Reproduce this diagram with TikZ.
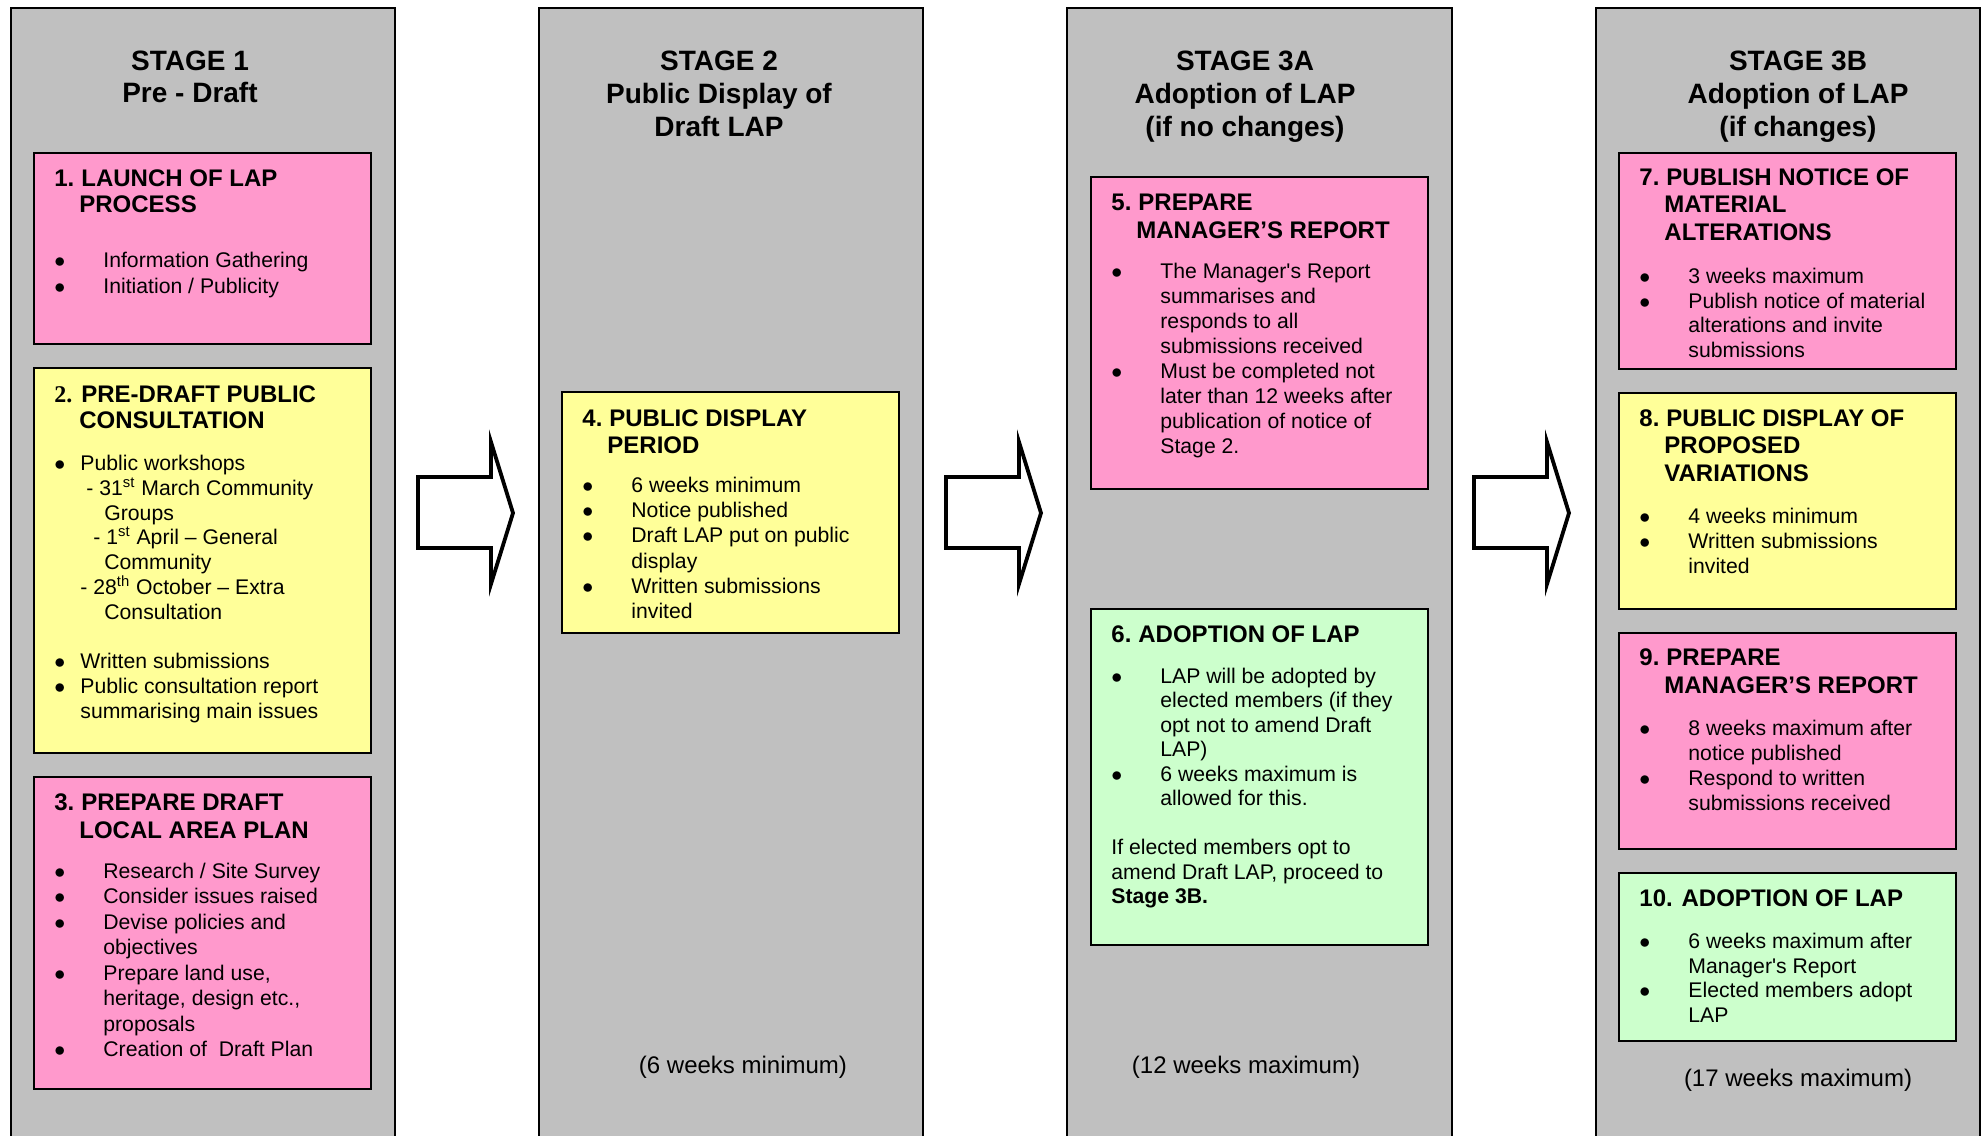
\documentclass[tikz,border=0pt]{standalone}
\usepackage{fontspec}
\setmainfont{Liberation Sans}
\newfontfamily\serifnum{Liberation Serif}
\definecolor{colgray}{HTML}{C0C0C0}
\definecolor{lpink}{HTML}{FF99CC}
\definecolor{lyellow}{HTML}{FFFF99}
\definecolor{lgreen}{HTML}{CCFFCC}
\newcommand\bu[1][24.5pt]{\makebox[#1][l]{$\bullet$}}
\newcommand\ind[1][24.5pt]{\hspace*{#1}}
\newcommand\num[1]{\makebox[13.5pt][l]{#1}}
\newcommand\hind{\hspace*{12.5pt}}
\newcommand\hs{\rule{0pt}{10pt}}
\newcommand\bs{\rule{0pt}{9pt}}
\newcommand\ts{\rule{0pt}{12pt}}
\tikzset{
  colpanel/.style={fill=colgray},
  coledge/.style={draw=black, line width=1pt},
  boxnode/.style={draw=black, line width=1.1pt, anchor=north west, inner sep=0pt, outer sep=0pt},
  pinkbox/.style={boxnode, fill=lpink},
  yellowbox/.style={boxnode, fill=lyellow},
  greenbox/.style={boxnode, fill=lgreen},
  stitle/.style={align=center, anchor=north, inner sep=0pt, font=\fontsize{14}{#1}\selectfont\bfseries, yshift=12pt},
  stitle/.default=16.5pt,
  thead/.style={align=left, anchor=north west, inner sep=0pt, font=\fontsize{12}{#1}\selectfont\bfseries, yshift=10pt},
  thead/.default=13.7pt,
  tbody/.style={align=left, anchor=north west, inner sep=0pt, font=\fontsize{10.6}{#1}\selectfont, yshift=9pt},
  tbody/.default=12.5pt,
  tfoot/.style={anchor=base, inner sep=0pt, font=\fontsize{12}{14}\selectfont},
  blockarrow/.style={fill=white, draw=black, line width=1.9pt, line join=miter}
}
\begin{document}
\begin{tikzpicture}[x=0.5pt,y=-0.5pt]
\useasboundingbox (0,0) rectangle (1984,1135);
\fill[white] (0,0) rectangle (1984,1135);

% columns
\foreach \l/\r in {11/395, 539/923, 1067/1452, 1596/1980}{
  \fill[colpanel] (\l,8) rectangle (\r,1145);
  \draw[coledge] (\l,1145) -- (\l,8) -- (\r,8) -- (\r,1145);
}

% block arrows
\foreach \s in {0,528,1056}{
  \draw[blockarrow, xshift=\s*0.5pt] (418,477) -- (491,477) -- (491,442) -- (513,513) -- (491,584) -- (491,548) -- (418,548) -- cycle;
}

% titles
\node[stitle=16pt] (t1) at (190,70) {\ts STAGE 1\\Pre - Draft};
\node[stitle] (t2) at (719,70) {\ts STAGE 2\\Public Display of\\Draft LAP};
\node[stitle] (t3) at (1245,70) {\ts STAGE 3A\\Adoption of LAP\\(if no changes)};
\node[stitle] (t4) at (1798,70) {\ts STAGE 3B\\Adoption of LAP\\(if changes)};

% boxes
\node[pinkbox, minimum width=168.5pt, minimum height=95.5pt] (b1) at (34,153) {};
\node[yellowbox, minimum width=168.5pt, minimum height=192.5pt] (b2) at (34,368) {};
\node[pinkbox, minimum width=168.5pt, minimum height=156pt] (b3) at (34,777) {};
\node[yellowbox, minimum width=168.5pt, minimum height=120.5pt] (b4) at (562,392) {};
\node[pinkbox, minimum width=168.5pt, minimum height=156pt] (b5) at (1091,177) {};
\node[greenbox, minimum width=168.5pt, minimum height=168pt] (b6) at (1091,609) {};
\node[pinkbox, minimum width=168.5pt, minimum height=108pt] (b7) at (1619,153) {};
\node[yellowbox, minimum width=168.5pt, minimum height=108pt] (b8) at (1619,393) {};
\node[pinkbox, minimum width=168.5pt, minimum height=108pt] (b9) at (1619,633) {};
\node[greenbox, minimum width=168.5pt, minimum height=84pt] (b10) at (1619,873) {};

% box 1
\node[thead=13pt] (h1) at (54,186) {\hs\num{1.}LAUNCH OF LAP\\\hind PROCESS};
\node[tbody=13.25pt] (x1) at (54,267) {\bs\bu Information Gathering\\\bu Initiation / Publicity};

% box 2
\node[thead=13pt] (h2) at (54,402) {\hs\num{\serifnum 2.}PRE-DRAFT PUBLIC\\\hind CONSULTATION};
\node[tbody=12.4pt] (x2) at (54,470) {\bs\bu[13pt]Public workshops\\
\ind[16pt]- 31\textsuperscript{st} March Community\\
\ind[25pt]Groups\\
\ind[19.5pt]- 1\textsuperscript{st} April – General\\
\ind[25pt]Community\\
\ind[13pt]- 28\textsuperscript{th} October – Extra\\
\ind[25pt]Consultation\\[12.4pt]
\bu[13pt]Written submissions\\
\bu[13pt]Public consultation report\\
\ind[13pt]summarising main issues};

% box 3
\node[thead=14pt] (h3) at (54,810) {\hs\num{3.}PREPARE DRAFT\\\hind LOCAL AREA PLAN};
\node[tbody=12.75pt] (x3) at (54,878) {\bs\bu Research / Site Survey\\
\bu Consider issues raised\\
\bu Devise policies and\\
\ind objectives\\
\bu Prepare land use,\\
\ind heritage, design etc.,\\
\ind proposals\\
\bu Creation of\ \ Draft Plan};

% box 4
\node[thead=13.3pt] (h4) at (582,426) {\hs\num{4.}PUBLIC DISPLAY\\\hind PERIOD};
\node[tbody=12.6pt] (x4) at (582,492) {\bs\bu 6 weeks minimum\\
\bu Notice published\\
\bu Draft LAP put on public\\
\ind display\\
\bu Written submissions\\
\ind invited};

% box 5
\node[thead=14pt] (h5) at (1111,210) {\hs\num{5.}PREPARE\\\hind MANAGER’S REPORT};
\node[tbody=12.5pt] (x5) at (1111,278) {\bs\bu The Manager\textquotesingle s Report\\
\ind summarises and\\
\ind responds to all\\
\ind submissions received\\
\bu Must be completed not\\
\ind later than 12 weeks after\\
\ind publication of notice of\\
\ind Stage 2.};

% box 6
\node[thead] (h6) at (1111,642) {\hs\num{6.}ADOPTION OF LAP};
\node[tbody=12.25pt] (x6) at (1111,683) {\bs\bu LAP will be adopted by\\
\ind elected members (if they\\
\ind opt not to amend Draft\\
\ind LAP)\\
\bu 6 weeks maximum is\\
\ind allowed for this.\\[12.25pt]
If elected members opt to\\
amend Draft LAP, proceed to\\
\textbf{Stage 3B.}};

% box 7
\node[thead=13.75pt] (h7) at (1639,185) {\hs\num{7.}PUBLISH NOTICE OF\\\hind MATERIAL\\\hind ALTERATIONS};
\node[tbody=12.35pt] (x7) at (1639,283) {\bs\bu 3 weeks maximum\\
\bu Publish notice of material\\
\ind alterations and invite\\
\ind submissions};

% box 8
\node[thead=13.75pt] (h8) at (1639,426) {\hs\num{8.}PUBLIC DISPLAY OF\\\hind PROPOSED\\\hind VARIATIONS};
\node[tbody=12.5pt] (x8) at (1639,523) {\bs\bu 4 weeks minimum\\
\bu Written submissions\\
\ind invited};

% box 9
\node[thead=14pt] (h9) at (1639,665) {\hs\num{9.}PREPARE\\\hind MANAGER’S REPORT};
\node[tbody=12.5pt] (x9) at (1639,735) {\bs\bu 8 weeks maximum after\\
\ind notice published\\
\bu Respond to written\\
\ind submissions received};

% box 10
\node[thead] (h10) at (1639,906) {\hs 10. ADOPTION OF LAP};
\node[tbody=12.35pt] (x10) at (1639,948) {\bs\bu 6 weeks maximum after\\
\ind Manager\textquotesingle s Report\\
\bu Elected members adopt\\
\ind LAP};

% footers
\node[tfoot] (f2) at (743,1073) {(6 weeks minimum)};
\node[tfoot] (f3) at (1246,1073) {(12 weeks maximum)};
\node[tfoot] (f4) at (1798,1086) {(17 weeks maximum)};
\end{tikzpicture}
\end{document}
